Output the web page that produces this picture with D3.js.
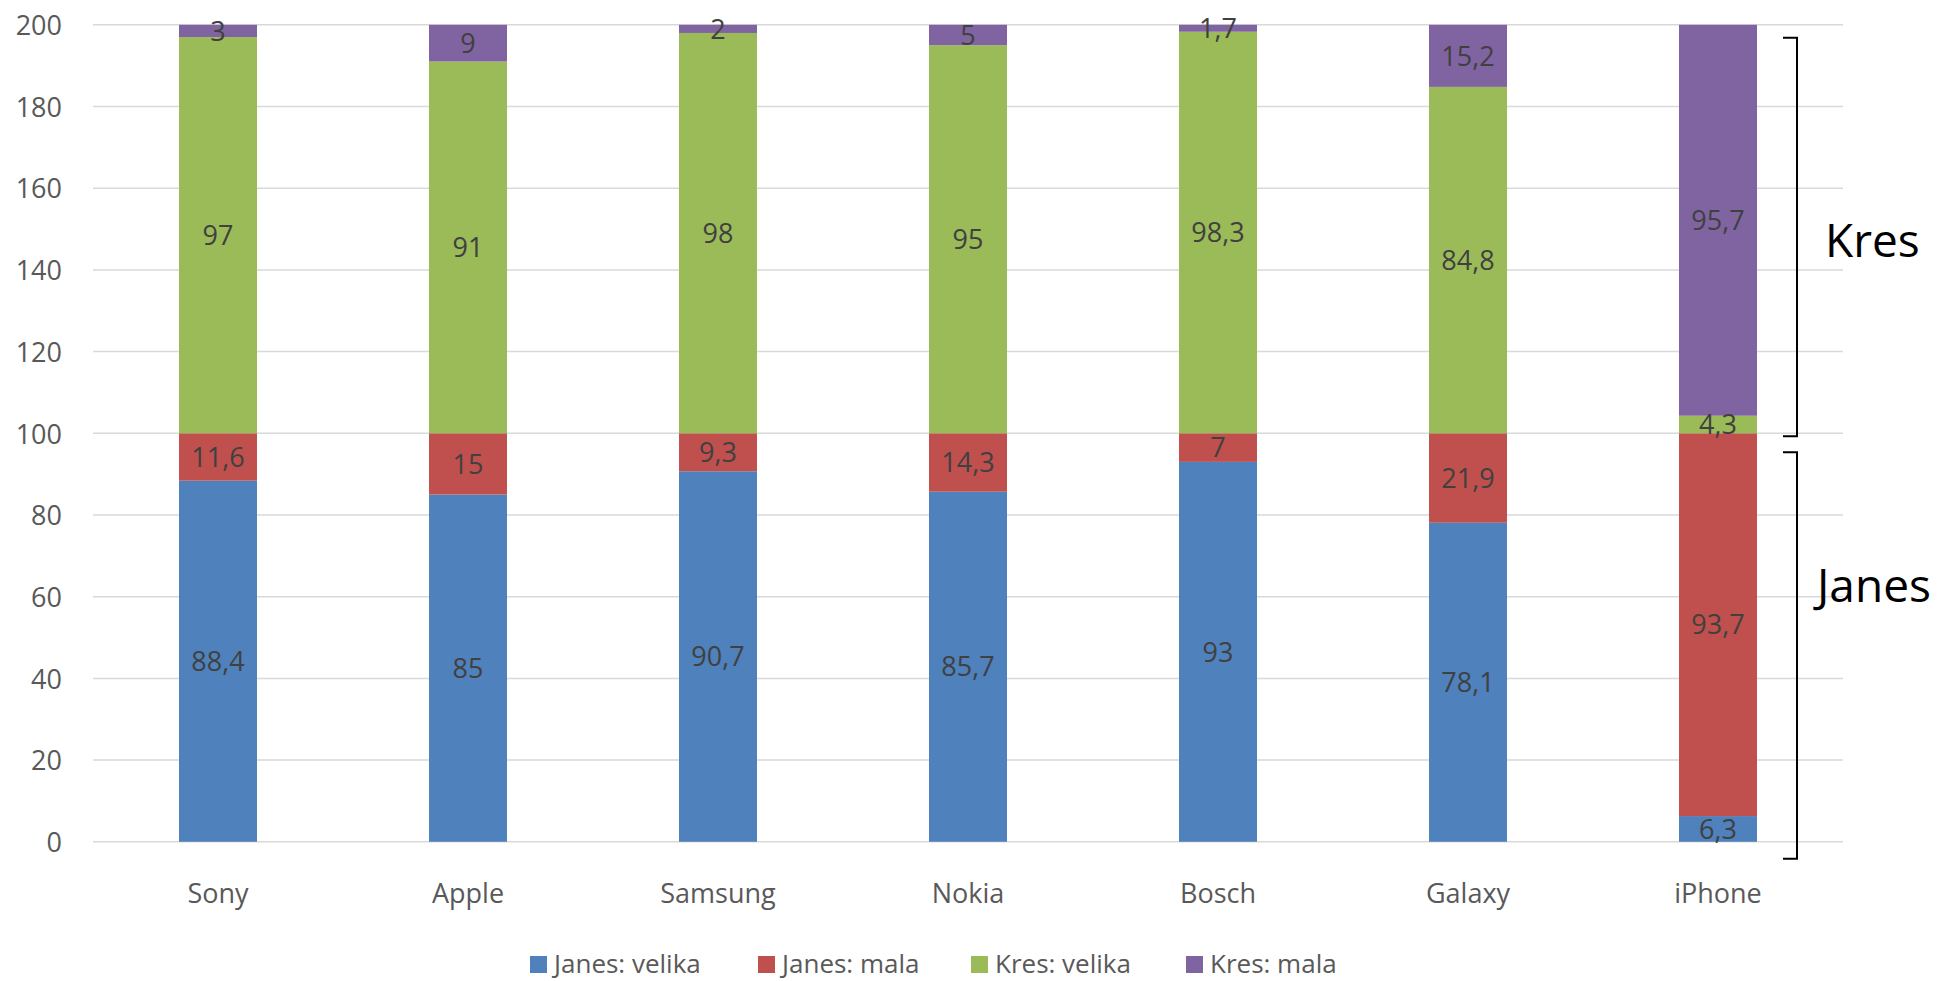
<!DOCTYPE html>
<html><head><meta charset="utf-8">
<script src="https://cdn.jsdelivr.net/npm/d3@7"></script>
<style>html,body{margin:0;padding:0;background:#fff;}svg{display:block;}</style>
</head><body>
<svg id="chart" width="1941" height="981"></svg>
<script>
const categories = ["Sony","Apple","Samsung","Nokia","Bosch","Galaxy","iPhone"];
const seriesNames = ["Janes: velika","Janes: mala","Kres: velika","Kres: mala"];
const janesVelika = [88.4, 85, 90.7, 85.7, 93, 78.1, 6.3];
const janesMala   = [11.6, 15, 9.3, 14.3, 7, 21.9, 93.7];
const kresVelika  = [97, 91, 98, 95, 98.3, 84.8, 4.3];
const kresMala    = [3, 9, 2, 5, 1.7, 15.2, 95.7];
const yTicks = [0,20,40,60,80,100,120,140,160,180,200];
const colors = ["#4F81BD","#C0504D","#9BBB59","#8064A2"];

const table = categories.map((c,i)=>({cat:c,
  "Janes: velika":janesVelika[i],"Janes: mala":janesMala[i],
  "Kres: velika":kresVelika[i],"Kres: mala":kresMala[i]}));

const svg = d3.select("#chart");
const font = "'Open Sans', sans-serif";
const plotLeft = 93, plotRight = 1843, plotTop = 24.8, plotBottom = 841.8;

const x = d3.scaleBand().domain(categories).range([plotLeft,plotRight]).paddingInner(0.688).paddingOuter(0.344);
const y = d3.scaleLinear().domain([0,200]).range([plotBottom, plotTop]);

// gridlines
svg.append("g").selectAll("line").data(yTicks).join("line")
  .attr("x1",plotLeft).attr("x2",plotRight)
  .attr("y1",d=>y(d)).attr("y2",d=>y(d))
  .attr("stroke","#D9D9D9").attr("stroke-width",1.5);

// y axis labels
const yAxis = d3.axisLeft(y).tickValues(yTicks).tickSize(0).tickPadding(0);
const ya = svg.append("g").attr("transform",`translate(62,0)`).call(yAxis);
ya.select(".domain").remove();
ya.selectAll("text").attr("font-family",font).attr("font-size",27).attr("fill","#595959").attr("dy","0.36em");

// x axis labels
const xAxis = d3.axisBottom(x).tickSize(0).tickPadding(0);
const xa = svg.append("g").attr("transform",`translate(0,${plotBottom})`).call(xAxis);
xa.select(".domain").remove();
xa.selectAll("text").attr("font-family",font).attr("font-size",27).attr("fill","#595959").attr("y",61).attr("dy",0);

// stacks
const stack = d3.stack().keys(seriesNames);
const layers = stack(table);
const fmt = v => String(v).replace(".", ",");
layers.forEach((layer,li)=>{
  svg.append("g").selectAll("rect").data(layer).join("rect")
    .attr("x",d=>x(d.data.cat)).attr("width",x.bandwidth())
    .attr("y",d=>y(d[1])).attr("height",d=>y(d[0])-y(d[1]))
    .attr("fill",colors[li]);
});
layers.forEach((layer,li)=>{
  svg.append("g").selectAll("text").data(layer).join("text")
    .attr("x",d=>x(d.data.cat)+x.bandwidth()/2)
    .attr("y",d=>y((d[0]+d[1])/2))
    .attr("dy","0.36em")
    .attr("text-anchor","middle")
    .attr("font-family",font).attr("font-size",27).attr("fill","#404040")
    .text(d=>fmt(d.data[layer.key]));
});

// brackets
const bx = 1797, bt = 14;
const brackets = [{y1:y(200)+13, y2:y(100)+3},{y1:y(100)+19, y2:y(0)+17}];
brackets.forEach(b=>{
  svg.append("path")
    .attr("d",`M${bx-bt},${b.y1} H${bx} V${b.y2} H${bx-bt}`)
    .attr("fill","none").attr("stroke","#000").attr("stroke-width",2);
});
svg.append("text").attr("x",1825).attr("y",257).attr("font-family",font).attr("font-size",46).attr("fill","#000").text("Kres");
svg.append("text").attr("x",1817).attr("y",602).attr("font-family",font).attr("font-size",46).attr("fill","#000").text("Janes");

// legend
const legendX = [530, 758, 971, 1186];
const lg = svg.append("g");
seriesNames.forEach((s,i)=>{
  lg.append("rect").attr("x",legendX[i]).attr("y",956).attr("width",17).attr("height",17).attr("fill",colors[i]);
  lg.append("text").attr("x",legendX[i]+24).attr("y",964).attr("dy","0.36em")
    .attr("font-family",font).attr("font-size",26).attr("fill","#595959").text(s);
});
</script>
</body></html>
